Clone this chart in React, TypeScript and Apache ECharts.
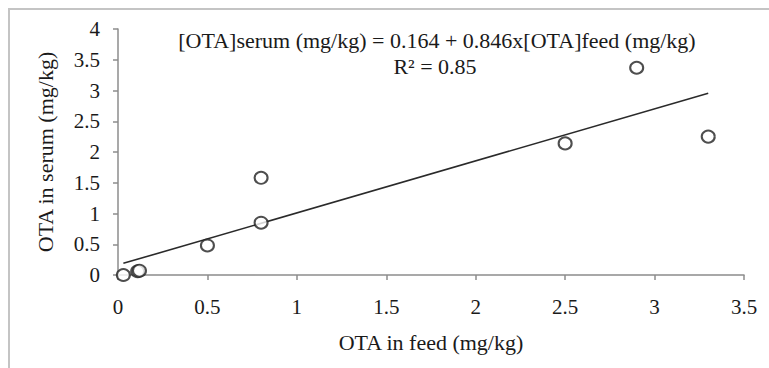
import React, { useEffect, useRef } from "react";
import * as echarts from "echarts";

const feedValues = [0.03, 0.11, 0.12, 0.5, 0.8, 0.8, 2.5, 2.9, 3.3];
const serumValues = [0.0, 0.06, 0.07, 0.48, 0.85, 1.58, 2.14, 3.37, 2.25];
const fitIntercept = 0.164;
const fitSlope = 0.846;
const fitRange = [0.03, 3.3];
const equationText = "[OTA]serum (mg/kg) = 0.164 + 0.846x[OTA]feed (mg/kg)";
const r2Text = "R² = 0.85";
const xTitle = "OTA in feed (mg/kg)";
const yTitle = "OTA in serum (mg/kg)";

const FONT = "Liberation Serif";

export default function App() {
  const ref = useRef<HTMLDivElement>(null);
  useEffect(() => {
    if (!ref.current) return;
    const chart = echarts.init(ref.current, null, { renderer: "svg" });
    const points = feedValues.map((x, i) => [x, serumValues[i]]);
    const fitLine = fitRange.map((x) => [x, fitIntercept + fitSlope * x]);
    chart.setOption({
      animation: false,
      backgroundColor: "#ffffff",
      textStyle: { fontFamily: FONT },
      grid: { left: 118, right: 25, top: 29, bottom: 93, outerBoundsMode: "none", containLabel: false },
      xAxis: {
        type: "value",
        min: 0,
        max: 3.5,
        interval: 0.5,
        name: xTitle,
        nameLocation: "middle",
        nameGap: 56,
        nameTextStyle: { fontFamily: FONT, fontSize: 22, color: "#1a1a1a" },
        axisLine: { show: true, lineStyle: { color: "#8c8c8c", width: 1.5 } },
        axisTick: { show: true, length: 5, inside: false, lineStyle: { color: "#8c8c8c", width: 1.5 } },
        axisLabel: { fontFamily: FONT, fontSize: 21, color: "#1a1a1a", margin: 21 },
        splitLine: { show: false },
      },
      yAxis: {
        type: "value",
        min: 0,
        max: 4,
        interval: 0.5,
        name: yTitle,
        nameLocation: "middle",
        nameGap: 62,
        nameRotate: 90,
        nameTextStyle: { fontFamily: FONT, fontSize: 22, color: "#1a1a1a" },
        axisLine: { show: true, lineStyle: { color: "#8c8c8c", width: 1.5 } },
        axisTick: { show: true, length: 5, inside: false, lineStyle: { color: "#8c8c8c", width: 1.5 } },
        axisLabel: { fontFamily: FONT, fontSize: 21, color: "#1a1a1a", margin: 18 },
        splitLine: { show: false },
      },
      graphic: [
        {
          type: "rect",
          shape: { x: 9, y: 9, width: 900, height: 500 },
          style: { fill: "none", stroke: "#c4c4c4", lineWidth: 2 },
          silent: true,
        },
        {
          type: "text",
          x: 437,
          y: 40.5,
          style: {
            text: equationText,
            font: `22px ${FONT}`,
            fill: "#1a1a1a",
            align: "center",
            verticalAlign: "middle",
          },
        },
        {
          type: "text",
          x: 435,
          y: 66,
          style: {
            text: r2Text,
            font: `22px ${FONT}`,
            fill: "#1a1a1a",
            align: "center",
            verticalAlign: "middle",
          },
        },
      ],
      series: [
        {
          type: "line",
          data: fitLine,
          symbol: "none",
          lineStyle: { color: "#2a2a2a", width: 1.6 },
          z: 2,
        },
        {
          type: "scatter",
          data: points,
          symbol: "circle",
          symbolSize: [13, 12],
          itemStyle: { color: "#ffffff", borderColor: "#222222", borderWidth: 2 },
          z: 3,
        },
      ],
    });
    return () => chart.dispose();
  }, []);
  return (
    <div
      ref={ref}
      style={{ position: "fixed", left: 0, top: 0, width: 769, height: 368 }}
    />
  );
}
